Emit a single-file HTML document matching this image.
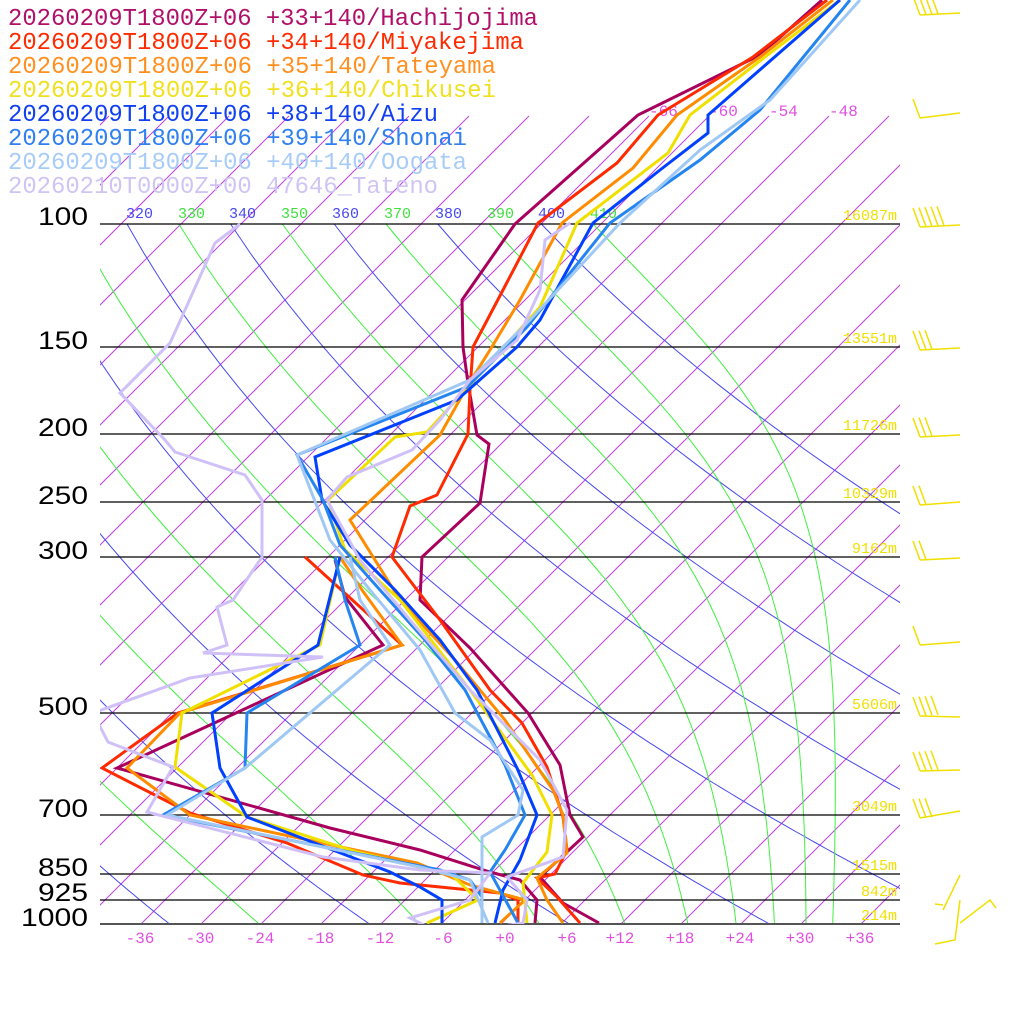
<!DOCTYPE html>
<html><head><meta charset="utf-8"><style>
html,body{margin:0;padding:0;background:#fff;width:1024px;height:1024px;overflow:hidden}
svg{display:block}
</style></head><body>
<svg id="s" width="1024" height="1024" viewBox="0 0 1024 1024" xmlns="http://www.w3.org/2000/svg">
<defs><clipPath id="pc"><rect x="100" y="0" width="800" height="924"/></clipPath></defs>
<g id="grid" clip-path="url(#pc)"></g>
<g id="plines" stroke="#000" stroke-width="1.3">
<line x1="100" y1="224" x2="900" y2="224"/><line x1="100" y1="347" x2="900" y2="347"/>
<line x1="100" y1="434" x2="900" y2="434"/><line x1="100" y1="502" x2="900" y2="502"/>
<line x1="100" y1="557" x2="900" y2="557"/><line x1="100" y1="713" x2="900" y2="713"/>
<line x1="100" y1="815" x2="900" y2="815"/><line x1="100" y1="874" x2="900" y2="874"/>
<line x1="100" y1="900" x2="900" y2="900"/><line x1="100" y1="924" x2="900" y2="924" stroke="#555" stroke-width="2"/>
</g>
<g clip-path="url(#pc)" font-family="Liberation Mono, monospace" font-size="15">
<text x="74" y="218" fill="#40e040">310</text>
<text x="126" y="218" fill="#4848f0">320</text>
<text x="178" y="218" fill="#40e040">330</text>
<text x="229" y="218" fill="#4848f0">340</text>
<text x="281" y="218" fill="#40e040">350</text>
<text x="332" y="218" fill="#4848f0">360</text>
<text x="384" y="218" fill="#40e040">370</text>
<text x="435" y="218" fill="#4848f0">380</text>
<text x="487" y="218" fill="#40e040">390</text>
<text x="538" y="218" fill="#4848f0">400</text>
<text x="590" y="218" fill="#40e040">410</text>
</g>
<g font-family="Liberation Mono, monospace" font-size="16" fill="#e050e0">
<text x="649" y="116">-66</text><text x="709" y="116">-60</text><text x="769" y="116">-54</text><text x="829" y="116">-48</text>
</g>
<g font-family="Liberation Mono, monospace" font-size="15" fill="#f0e000" text-anchor="end">
<text x="897" y="220">16087m</text><text x="897" y="343">13551m</text><text x="897" y="430">11726m</text>
<text x="897" y="498">10329m</text><text x="897" y="553">9162m</text><text x="897" y="709">5606m</text>
<text x="897" y="811">3049m</text><text x="897" y="870">1515m</text><text x="897" y="896">842m</text><text x="897" y="920">214m</text>
</g>
<g font-family="Liberation Sans, sans-serif" font-size="25" fill="#000">
<text x="38" y="225" textLength="50" lengthAdjust="spacingAndGlyphs">100</text>
<text x="38" y="349" textLength="50" lengthAdjust="spacingAndGlyphs">150</text>
<text x="38" y="436" textLength="50" lengthAdjust="spacingAndGlyphs">200</text>
<text x="38" y="504" textLength="50" lengthAdjust="spacingAndGlyphs">250</text>
<text x="38" y="559" textLength="50" lengthAdjust="spacingAndGlyphs">300</text>
<text x="38" y="715" textLength="50" lengthAdjust="spacingAndGlyphs">500</text>
<text x="38" y="817" textLength="50" lengthAdjust="spacingAndGlyphs">700</text>
<text x="38" y="876" textLength="50" lengthAdjust="spacingAndGlyphs">850</text>
<text x="38" y="901" textLength="50" lengthAdjust="spacingAndGlyphs">925</text>
<text x="21" y="926" textLength="67" lengthAdjust="spacingAndGlyphs">1000</text>
</g>
<g font-family="Liberation Mono, monospace" font-size="16" fill="#e050e0" text-anchor="middle">
<text x="140" y="943">-36</text><text x="200" y="943">-30</text><text x="260" y="943">-24</text><text x="320" y="943">-18</text>
<text x="380" y="943">-12</text><text x="443" y="943">-6</text><text x="505" y="943">+0</text><text x="567" y="943">+6</text>
<text x="620" y="943">+12</text><text x="680" y="943">+18</text><text x="740" y="943">+24</text><text x="800" y="943">+30</text><text x="860" y="943">+36</text>
</g>
<g id="prof" fill="none" stroke-width="3" stroke-linejoin="miter" clip-path="url(#pc)"></g>
<g id="barbs" stroke="#f0e000" stroke-width="1.5" fill="none"></g>
<g font-family="Liberation Mono, monospace" font-size="24">
<text x="8" y="25" fill="#b0106a" textLength="530" lengthAdjust="spacingAndGlyphs">20260209T1800Z+06 +33+140/Hachijojima</text>
<text x="8" y="49" fill="#ff2a00" textLength="516" lengthAdjust="spacingAndGlyphs">20260209T1800Z+06 +34+140/Miyakejima</text>
<text x="8" y="73" fill="#ff9020" textLength="488" lengthAdjust="spacingAndGlyphs">20260209T1800Z+06 +35+140/Tateyama</text>
<text x="8" y="97" fill="#f0e020" textLength="488" lengthAdjust="spacingAndGlyphs">20260209T1800Z+06 +36+140/Chikusei</text>
<text x="8" y="121" fill="#1040f0" textLength="430" lengthAdjust="spacingAndGlyphs">20260209T1800Z+06 +38+140/Aizu</text>
<text x="8" y="145" fill="#3080f0" textLength="459" lengthAdjust="spacingAndGlyphs">20260209T1800Z+06 +39+140/Shonai</text>
<text x="8" y="169" fill="#a8ccf8" textLength="459" lengthAdjust="spacingAndGlyphs">20260209T1800Z+06 +40+140/Oogata</text>
<text x="8" y="193" fill="#d0c4f4" textLength="430" lengthAdjust="spacingAndGlyphs">20260210T0000Z+00 47646_Tateno</text>
</g>
</svg>
<script>
(function(){
var NS="http://www.w3.org/2000/svg";
function Y(p){return 924-304*Math.log(1000/p);}
function X(t,p){return 501+10*t+(924-Y(p));}
var g=document.getElementById('grid');
function pl(pts,col,w,par){var e=document.createElementNS(NS,'polyline');e.setAttribute('points',pts.map(function(a){return a[0].toFixed(1)+','+a[1].toFixed(1)}).join(' '));e.setAttribute('stroke',col);e.setAttribute('stroke-width',w);e.setAttribute('fill','none');(par||g).appendChild(e);}
for(var T=-180;T<=60;T+=6){pl([[501+10*T,924],[501+10*T+808,116]],'#c040e0',1);}
for(var th=200;th<=400;th+=20){var a=[];for(var p=100;p<=1000;p+=10){a.push([X(th*Math.pow(p/1000,0.2857)-273.15,p),Y(p)]);}pl(a,'#4848f0',1);}
function es(tc){return 6.112*Math.exp(17.67*tc/(tc+243.5));}
for(var th=250;th<=410;th+=20){var Tk=th*Math.pow(0.1,0.2857);var a=[[X(Tk-273.15,100),Y(100)]];var p=100;
 while(p<1000){var dp=1;var tc=Tk-273.15;var e=es(tc);var rs=0.622*e/(p-e);
 var dT=(287*Tk+2.5e6*rs)/(1004+2.5e6*2.5e6*rs*0.622/(287*Tk*Tk))/p;Tk+=dT*dp;p+=dp;
 if(p%10==0)a.push([X(Tk-273.15,p),Y(p)]);}
 pl(a,'#40f040',1);}
var P=document.getElementById('prof');
var S=[
['#a8005c',[[599,923],[563,903],[540,877],[583,837],[570,815],[560,765],[528,713],[470,648],[420,600],[422,557],[480,503],[489,444],[477,435],[468,383],[463,347],[462,300],[515,224],[638,115],[760,55],[822,0]]],
['#a8005c',[[535,923],[537,900],[520,880],[490,872],[420,850],[330,828],[117,768],[383,645],[345,597],[335,560]]],
['#ff2a00',[[580,923],[557,897],[537,878],[555,874],[567,850],[563,817],[547,767],[522,723],[490,690],[440,620],[392,557],[410,506],[437,495],[468,434],[470,390],[473,347],[503,290],[538,223],[617,163],[658,115],[753,57],[827,0]]],
['#ff2a00',[[518,923],[518,900],[500,893],[400,883],[363,875],[287,843],[190,813],[102,768],[178,713],[402,645],[305,557]]],
['#ff8c00',[[563,923],[547,900],[537,878],[567,853],[563,815],[553,790],[505,720],[455,660],[400,600],[350,520],[440,435],[468,385],[490,350],[520,300],[562,223],[633,168],[677,115],[760,57],[833,0]]],
['#ff8c00',[[500,923],[525,900],[470,885],[417,863],[190,815],[127,768],[180,713],[402,645],[362,590],[340,557]]],
['#f0e000',[[527,923],[523,883],[547,852],[552,815],[532,775],[470,690],[400,600],[345,550],[328,500],[395,437],[427,432],[470,385],[540,307],[577,223],[668,153],[690,115],[765,57],[840,0]]],
['#f0e000',[[427,923],[478,900],[452,875],[357,852],[247,817],[175,767],[182,713],[320,645],[340,557]]],
['#0040ff',[[495,923],[503,890],[520,860],[537,815],[517,768],[477,690],[440,640],[395,590],[350,545],[322,500],[315,457],[457,400],[517,347],[540,320],[593,223],[660,170],[708,133],[708,115],[840,0]]],
['#0040ff',[[442,923],[442,900],[420,887],[390,872],[247,817],[220,768],[212,713],[290,663],[318,645],[340,557]]],
['#2585f0',[[518,923],[490,872],[505,850],[525,815],[505,765],[465,690],[425,640],[380,590],[340,545],[323,500],[297,455],[467,387],[527,327],[610,223],[700,160],[760,110],[850,0]]],
['#2585f0',[[482,923],[482,897],[470,880],[440,870],[163,815],[245,768],[247,713],[360,645],[345,600],[335,557]]],
['#a0c8f4',[[482,923],[482,837],[518,815],[523,790],[490,740],[455,713],[420,650],[370,590],[330,540],[297,455],[470,380],[530,320],[620,223],[700,150],[770,100],[860,0]]],
['#a0c8f4',[[488,923],[470,880],[420,867],[167,815],[245,768],[390,645],[360,600],[350,557]]],
['#d0c0f8',[[490,928],[523,923],[527,900],[507,877],[563,857],[567,810],[540,760],[470,690],[410,620],[360,560],[327,500],[347,477],[412,450],[440,420],[470,380],[517,340],[540,290],[545,240],[570,223]]],
['#d0c0f8',[[430,928],[410,918],[470,900],[490,873],[420,870],[323,857],[147,812],[173,767],[108,742],[93,713],[190,678],[323,657],[203,653],[227,645],[217,607],[233,600],[262,557],[262,500],[245,475],[175,452],[165,440],[120,393],[170,343],[185,310],[215,243],[240,224]]]
];
S.forEach(function(s){pl(s[1],s[0],3,P);});
var B=document.getElementById('barbs');
function barb(y,n,dy){var x0=920,y0=y+3;pl([[x0,y0],[960,y0-(dy||3)]],'#f0e000',1.5,B);
 for(var i=0;i<n;i++){var bx=x0+i*6,by=y0-i*0.4;pl([[bx,by],[bx-7,by-19]],'#f0e000',1.5,B);}}
barb(12,4,2);barb(115,1,5);barb(224,5,2);barb(347,3,2);barb(434,3,2);barb(502,2,0);barb(557,2,2);barb(642,1,3);barb(713,4,-1);barb(768,4,1);barb(815,3,7);
pl([[960,875],[943,910]],'#f0e000',1.5,B);pl([[935,904],[943,905]],'#f0e000',1.5,B);
pl([[960,900],[955,940],[935,944]],'#f0e000',1.5,B);
pl([[960,923],[990,900],[996,908]],'#f0e000',1.5,B);
})();
</script>
</body></html>
